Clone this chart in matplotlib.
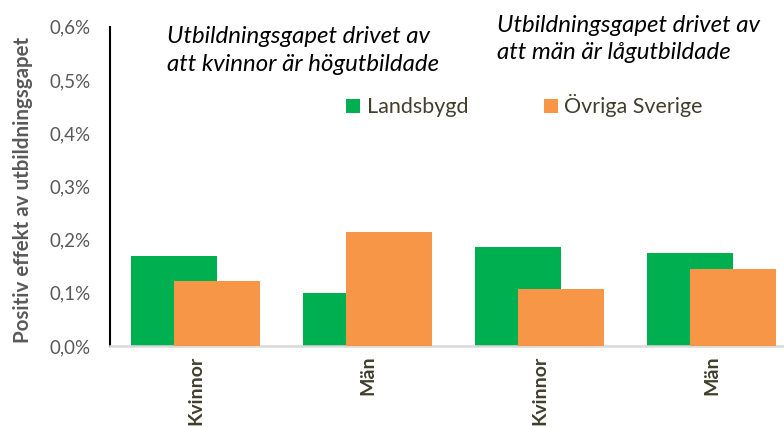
import matplotlib.pyplot as plt
from matplotlib.ticker import FuncFormatter
import numpy as np

plt.rcParams['font.family'] = ['Lato', 'DejaVu Sans']

# data (percent)
categories = ['Kvinnor', 'Män', 'Kvinnor', 'Män']
landsbygd = [0.169, 0.099, 0.186, 0.174]
ovriga = [0.1225, 0.214, 0.1075, 0.144]

green = '#00B050'
orange = '#F79646'

fig = plt.figure(figsize=(7.84, 4.28), dpi=100)
ax = fig.add_axes([0.1403, 0.1916, 0.8597, 0.746])

x = np.arange(len(categories))
w = 0.5
ax.bar(x - 0.125, landsbygd, width=w, color=green, label='Landsbygd', zorder=2)
ax.bar(x + 0.125, ovriga, width=w, color=orange, label='Övriga Sverige', zorder=3)

ax.set_xlim(-0.5, 3.419)
ax.set_ylim(0, 0.6)
ax.set_yticks(np.arange(0, 0.61, 0.1))
ax.yaxis.set_major_formatter(FuncFormatter(lambda v, p: ('%.1f%%' % v).replace('.', ',')))
ax.tick_params(axis='y', length=0, pad=14, labelsize=13.5, labelcolor='#595959')
ax.set_xticks(x)
ax.set_xticklabels(categories, rotation=90, fontweight='bold', fontsize=14, color='#403f2c')
ax.tick_params(axis='x', length=0, pad=7)

for s in ['top', 'right']:
    ax.spines[s].set_visible(False)
ax.spines['left'].set_color('#000000')
ax.spines['left'].set_linewidth(1.5)
ax.spines['bottom'].set_color('#d9d9d9')
ax.spines['bottom'].set_linewidth(1.8)

ax.set_ylabel('Positiv effekt av utbildningsgapet', fontsize=14.8, fontweight='bold', color='#595959')
ax.yaxis.set_label_coords(-0.114, 0.49)

ax.text(0.0846, 0.925, 'Utbildningsgapet drivet av\natt kvinnor är högutbildade',
        transform=ax.transAxes, ha='left', va='center', fontsize=17.3, style='italic',
        linespacing=1.42)
ax.text(0.574, 0.962, 'Utbildningsgapet drivet av\natt män är lågutbildade',
        transform=ax.transAxes, ha='left', va='center', fontsize=17.3, style='italic',
        linespacing=1.32)

ax.legend(loc='center', bbox_to_anchor=(0.615, 0.752), ncol=2, frameon=False,
          fontsize=15.5, handlelength=0.65, handleheight=0.65, handletextpad=0.3,
          columnspacing=3.5, labelcolor='#403f2c')

fig.savefig('out.png', dpi=100)
